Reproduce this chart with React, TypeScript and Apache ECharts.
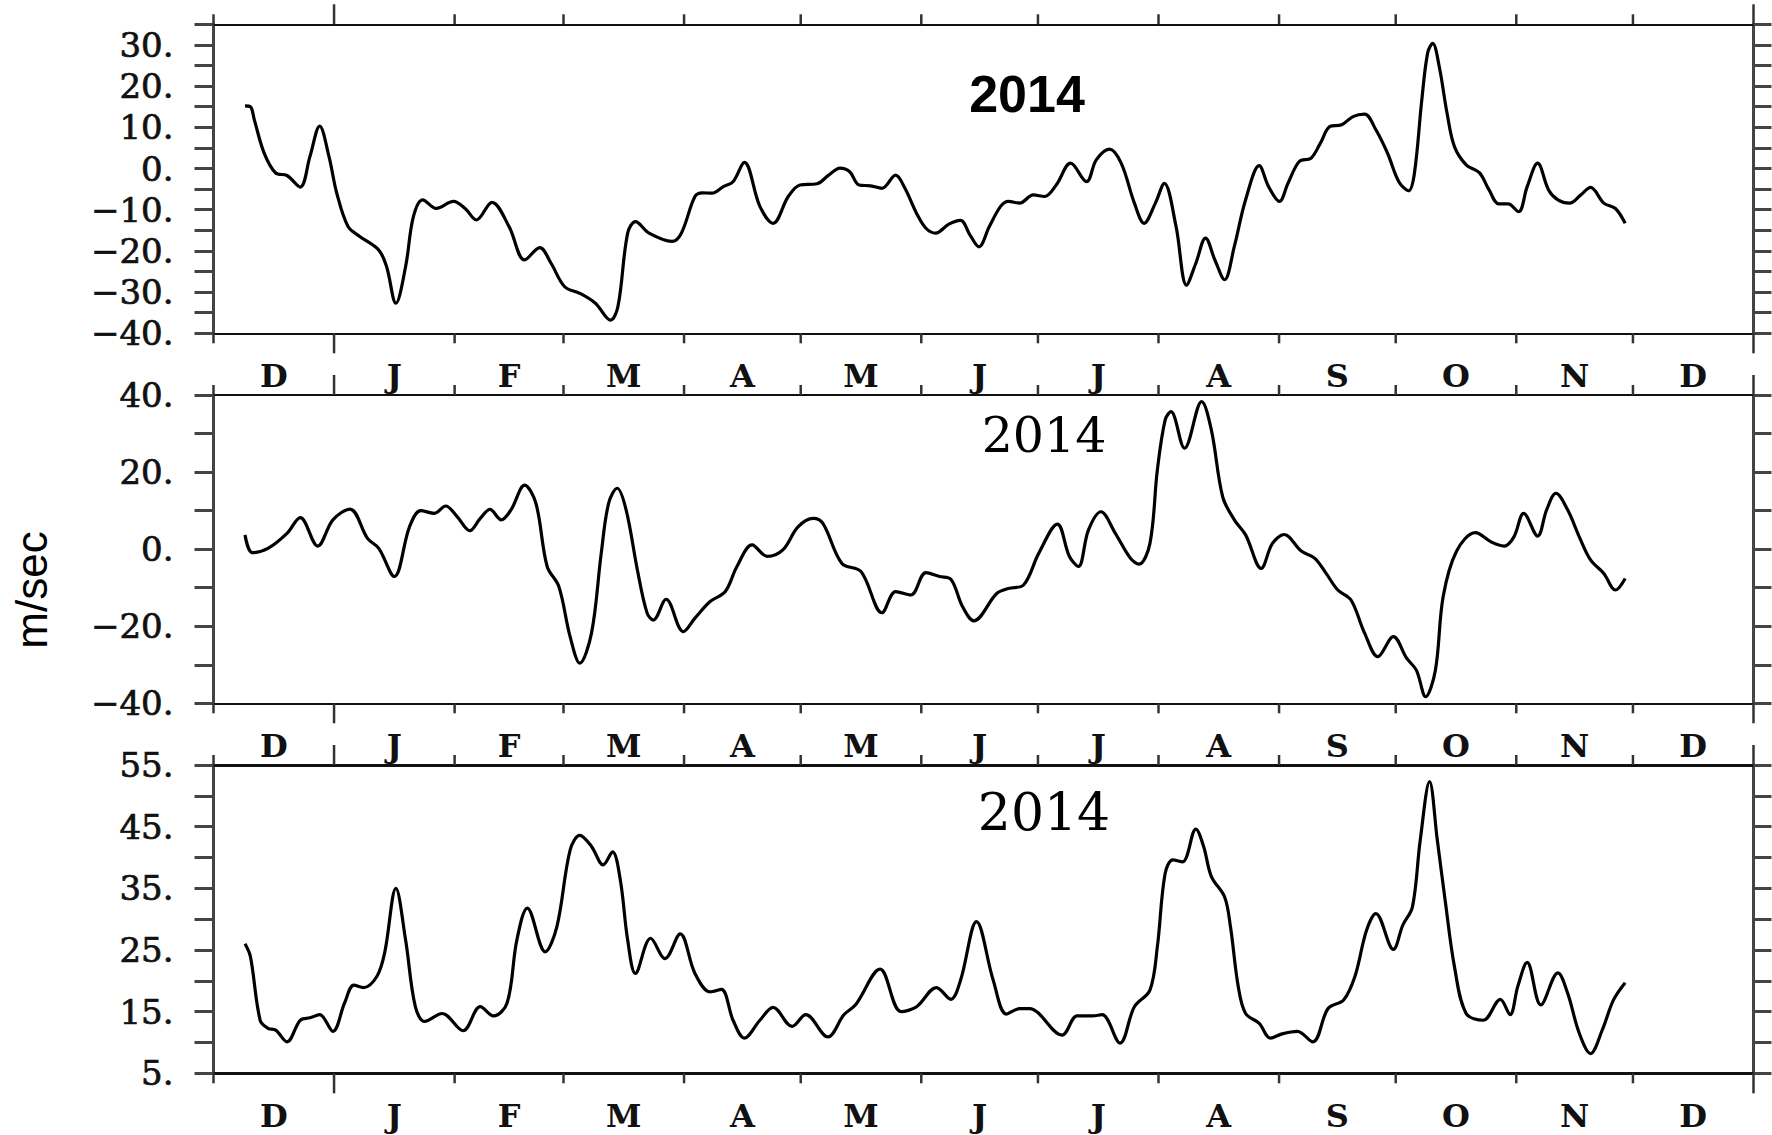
import React, { useEffect, useRef } from "react";
import * as echarts from "echarts";

// ---- x axis: days since 1 Dec 2013 ----
const monthStarts = [0, 31, 62, 90, 121, 151, 182, 212, 243, 274, 304, 335, 365, 396];
const longTickDays = [31, 396];
const monthLetters = ["D", "J", "F", "M", "A", "M", "J", "J", "A", "S", "O", "N", "D"];
const yearLabel = "2014";
const unitLabel = "m/sec";

// ---- panel 1 ----
const p1Days = [8.1, 9.5, 10.5, 13, 16, 18.9, 22.3, 24.8, 27.3, 29.7, 31.7, 34.6, 37.6, 42.5, 44.5, 46.9, 49.4, 51.4, 53.8, 57.3, 61.7, 64.7, 67.6, 71.6, 76, 80, 83.9, 86.8, 90.3, 94.2, 98.2, 102.1, 104, 106.5, 108.5, 112, 117.9, 120.3, 123.8, 125.7, 128.2, 131.1, 133.6, 136.5, 140.5, 143.9, 147.8, 150.8, 155.2, 158.2, 161.1, 163.6, 166, 169, 171.9, 175.4, 177.8, 180.8, 183.2, 185.7, 189.1, 192.1, 194.5, 196.8, 199.5, 202.4, 204.4, 207.3, 210.8, 213.7, 216.7, 220.4, 224.5, 227, 230.4, 233.4, 236.8, 239.3, 242.2, 244.5, 247.5, 250.2, 252.6, 255.1, 257.5, 260, 262.5, 265.4, 268.9, 271.3, 274.1, 276.3, 279.2, 282.2, 284.6, 287.1, 290.1, 293, 296, 298.9, 301.9, 304.8, 307.3, 308.8, 310.7, 312.2, 313.5, 315.2, 317.2, 319.1, 322.1, 325.5, 328, 330.5, 332.9, 335.6, 337.8, 340.5, 343.3, 345.7, 348.7, 351.6, 354.1, 357.5, 360.5, 363];
const p1Vals = [15.2, 15.0, 11.8, 3.8, -1.1, -1.7, -4.5, 2.9, 10.3, 2.9, -6, -14.1, -16.5, -19.8, -23.8, -32.7, -23.8, -11.7, -7.6, -9.7, -8, -9.7, -12.5, -8.2, -14.1, -22.2, -19.2, -23, -28.7, -30.3, -32.7, -36.8, -33.5, -15.7, -12.9, -15.7, -17.7, -15.7, -6.8, -5.9, -6, -4.4, -3.2, 1.5, -9.2, -13.3, -6.8, -4, -3.7, -1.6, 0.1, -0.8, -4, -4.2, -4.8, -1.6, -4.8, -10.9, -14.5, -15.7, -13.5, -12.6, -16.1, -19, -14.1, -9.2, -8, -8.4, -6.4, -6.8, -4, 1.3, -3.2, 2.1, 4.7, 1.3, -8.4, -13.3, -8.4, -3.6, -14, -28.3, -23, -16.9, -22.2, -27, -18.9, -7.6, 0.7, -4.4, -8, -3.6, 1.7, 2.5, 6.1, 10.2, 10.6, 12.6, 13.2, 9.4, 3.7, -3.2, -5.4, -1.2, 16.6, 28, 30.4, 24.7, 13.4, 5.3, 0.9, -1, -5.2, -8.6, -8.6, -10.5, -4.4, 1.3, -5.2, -7.6, -8.4, -6.4, -4.6, -8.4, -9.7, -13.3];
const p1Ticks = [-40, -30, -20, -10, 0, 10, 20, 30];

// ---- panel 2 ----
const p2Days = [8.1, 10, 14, 18.9, 22.3, 26.8, 30.7, 35.1, 39.6, 42.5, 46.5, 50.4, 53.3, 56.8, 59.7, 62.7, 65.9, 68.6, 71.1, 74, 76.5, 80, 82.9, 85.8, 88.8, 91.7, 94.2, 97.2, 99.7, 101.6, 103.8, 106.1, 109, 111.5, 113.1, 116.4, 120.8, 123.8, 127.7, 131.6, 134.6, 138.5, 142.4, 146.4, 150.3, 154.2, 156.7, 161.6, 166.5, 171.9, 175.4, 179.3, 183.2, 186.7, 189.6, 192.6, 195.5, 201.4, 204.4, 208.3, 212.2, 217, 220.1, 222.4, 225, 228.2, 231.9, 235.8, 238, 240.8, 242.7, 244.7, 246.2, 249.7, 254.1, 256.6, 259.5, 262.5, 265.4, 269.4, 272.3, 275.3, 279.7, 283.2, 286.1, 289.1, 292.5, 296, 299.4, 303.4, 306.8, 309.3, 311.7, 314.2, 316.2, 319.6, 324.5, 328.5, 331.9, 334.4, 336.9, 340.5, 342.8, 345.2, 348.2, 351.2, 354.1, 357.5, 360.5, 363];
const p2Vals = [3.7, -0.9, 0.2, 4.1, 8.2, 0.8, 7.6, 10.4, 2.8, 0.2, -7.1, 5.8, 10, 9.3, 11.2, 8.4, 4.8, 8, 10.3, 7.6, 10.2, 16.6, 11.9, -4.5, -9.7, -22.7, -29.6, -21.8, -1.1, 11.9, 15.8, 10.2, -5.4, -16.6, -18.4, -13, -21.4, -17.9, -13.6, -11, -4.5, 1.1, -1.9, -0.2, 5.8, 8, 6.7, -3.7, -5.8, -16.5, -11, -11.9, -6.1, -7.1, -7.8, -14.9, -18.6, -11.5, -10.2, -9.3, -1.1, 6.5, -1.9, -4.5, 5, 9.7, 4.1, -2.4, -3.9, 1.5, 20.5, 33.5, 35.7, 26.2, 38.3, 30.9, 13.6, 7.6, 3.7, -5, 1.5, 3.8, -0.5, -2.4, -6.3, -10.6, -13.2, -21.8, -27.9, -22.7, -28.3, -31.4, -38.3, -31.4, -12.3, -0.6, 4.3, 1.9, 0.8, 3.2, 9.3, 3.4, 10.2, 14.5, 10.2, 3.2, -2.8, -6.3, -10.6, -7.6];
const p2Ticks = [-40, -20, 0, 20, 40];

// ---- panel 3 ----
const p3Days = [8.1, 9.5, 12, 14, 16, 18.9, 22.3, 24.8, 27.3, 30.7, 33.7, 36.1, 38.6, 42, 44, 46.9, 49.4, 51.9, 54.3, 58.8, 64.2, 68.6, 72, 75.5, 78, 80.7, 85.3, 88.3, 91.7, 94.2, 97.2, 100.2, 102.6, 104.6, 106.5, 108.5, 112.4, 116.1, 120, 123.8, 127.7, 130.6, 133.6, 136.5, 140.5, 143.9, 148.8, 152.3, 158, 162.1, 165.1, 171.4, 176.8, 180.8, 185.9, 189.6, 192.1, 196.2, 200.5, 203.9, 207.3, 209.8, 218.2, 222.1, 226, 228.5, 233.1, 236.8, 240.8, 242.7, 244.7, 246.7, 249.2, 252.6, 254.6, 256.6, 260, 261.5, 263.5, 265.4, 268.9, 271.8, 274.8, 278.7, 282.7, 286.6, 290.6, 293.5, 296.5, 298.9, 303.4, 305.8, 308.3, 310.3, 312.7, 314.7, 316.7, 319.1, 322.1, 326.5, 330.9, 333.4, 335.4, 337.8, 341.3, 345.7, 348.2, 351.2, 354.1, 357.1, 360, 363];
const p3Vals = [26, 23.9, 13.6, 12.3, 12, 10.1, 13.6, 14, 14.5, 11.8, 16.4, 19.3, 18.9, 20.7, 24.5, 35, 26.6, 15.8, 13.4, 14.7, 11.9, 15.8, 14.3, 16.4, 26.6, 31.8, 24.7, 28.8, 41.2, 43.6, 41.8, 38.8, 40.9, 36.4, 26.6, 21.2, 26.9, 23.6, 27.6, 21.2, 18.2, 18.6, 13.6, 10.7, 13.6, 15.7, 12.6, 14.5, 10.9, 14.5, 16.1, 21.9, 15, 15.8, 18.9, 17, 20.1, 29.6, 20.1, 14.6, 15.5, 15.5, 11.2, 14.3, 14.3, 14.5, 9.9, 15.8, 18.5, 25.5, 37.4, 39.6, 39.3, 44.6, 41.8, 36.9, 33.6, 28.8, 19.1, 14.7, 13.1, 10.7, 11.4, 11.8, 10.1, 15.5, 16.9, 20.7, 28.2, 30.9, 25.1, 29, 32, 42.8, 52.3, 42.8, 33.1, 22.3, 14.7, 13.6, 17, 14.5, 19.1, 23, 16.1, 21.3, 18, 11.5, 8.2, 12, 16.9, 19.7];
const p3Ticks = [5, 15, 25, 35, 45, 55];

const panels = [
  { days: p1Days, vals: p1Vals, ticks: p1Ticks, min: -40, max: 35, step: 5, top: 24.3, height: 309, axisW: 2 },
  { days: p2Days, vals: p2Vals, ticks: p2Ticks, min: -40, max: 40, step: 10, top: 395, height: 308.3, axisW: 2 },
  { days: p3Days, vals: p3Vals, ticks: p3Ticks, min: 5, max: 55, step: 5, top: 765, height: 308.3, axisW: 3 },
];

const monthMids = monthStarts.slice(0, -1).map((d, i) => (d + monthStarts[i + 1]) / 2);

const fmtTick = (v: number) => (v < 0 ? "\u2212" : "") + Math.abs(v) + ".";

export default function App() {
  const ref = useRef<HTMLDivElement>(null);
  useEffect(() => {
    if (!ref.current) return;
    const chart = echarts.init(ref.current, null, { renderer: "svg" });
    const serif = "'DejaVu Serif', 'Liberation Serif', serif";
    const grid: any[] = [];
    const xAxis: any[] = [];
    const yAxis: any[] = [];
    const series: any[] = [];
    panels.forEach((p, i) => {
      grid.push({ left: 213.5, width: 1540, top: p.top, height: p.height, containLabel: false });
      xAxis.push({
        type: "value", gridIndex: i, min: 0, max: 396, position: "bottom",
        axisLine: { show: true, onZero: false, lineStyle: { color: "#111", width: p.axisW } },
        axisTick: { show: false }, splitLine: { show: false },
        axisLabel: {
          customValues: monthMids,
          formatter: (v: number) => {
            let best = 0;
            monthMids.forEach((m, k) => { if (Math.abs(m - v) < Math.abs(monthMids[best] - v)) best = k; });
            return monthLetters[best];
          },
          margin: 27, fontFamily: serif, fontWeight: "bold", fontSize: 32, color: "#111",
          showMinLabel: true, showMaxLabel: true,
        },
      });
      xAxis.push({
        type: "value", gridIndex: i, min: 0, max: 396, position: "top",
        axisLine: { show: true, onZero: false, lineStyle: { color: "#111", width: p.axisW } },
        axisTick: { show: false }, axisLabel: { show: false }, splitLine: { show: false },
      });
      yAxis.push({
        type: "value", gridIndex: i, min: p.min, max: p.max, interval: p.step, position: "left",
        axisLine: { show: true, onZero: false, lineStyle: { color: "#444", width: 3 } },
        axisTick: { show: true, inside: false, length: 19, lineStyle: { color: "#444", width: 3 } },
        splitLine: { show: false },
        axisLabel: {
          formatter: (v: number) => (p.ticks.includes(v) ? fmtTick(v) : ""),
          margin: 40, fontFamily: serif, fontSize: 34, color: "#111",
          textBorderColor: "#111", textBorderWidth: 0.7,
          showMinLabel: true, showMaxLabel: true,
        },
      });
      yAxis.push({
        type: "value", gridIndex: i, min: p.min, max: p.max, interval: p.step, position: "right",
        axisLine: { show: true, onZero: false, lineStyle: { color: "#444", width: 3 } },
        axisTick: { show: true, inside: false, length: 18, lineStyle: { color: "#444", width: 3 } },
        splitLine: { show: false }, axisLabel: { show: false },
      });
      series.push({
        type: "line", xAxisIndex: 2 * i, yAxisIndex: 2 * i,
        data: p.days.map((d, k) => [d, p.vals[k]]),
        showSymbol: false, smooth: 0.35,
        lineStyle: { color: "#000", width: 3.2 },
      });
      series.push({
        type: "custom", xAxisIndex: 2 * i, yAxisIndex: 2 * i, clip: false,
        data: monthStarts.map((d) => [d, p.min, longTickDays.includes(d) ? 1 : 0]),
        renderItem: (params: any, api: any) => {
          const x = api.coord([api.value(0), p.min])[0];
          const cs = params.coordSys;
          const len = api.value(2) ? 20 : 10;
          const st = { stroke: "#333", lineWidth: 2.5 };
          return {
            type: "group",
            children: [
              { type: "line", shape: { x1: x, y1: cs.y, x2: x, y2: cs.y - len }, style: st },
              { type: "line", shape: { x1: x, y1: cs.y + cs.height, x2: x, y2: cs.y + cs.height + len }, style: st },
            ],
          };
        },
      });
    });
    const txt = (x: number, y: number, text: string, font: any, rotation = 0) => ({
      type: "text", x, y, rotation,
      style: {
        text, fill: "#000", ...font,
        align: "center", verticalAlign: "middle", textAlign: "center", textVerticalAlign: "middle",
      },
    });
    chart.setOption({
      animation: false,
      backgroundColor: "#fff",
      grid, xAxis, yAxis, series,
      graphic: [
        txt(1027, 94, yearLabel, { fontFamily: "'Liberation Sans', Arial, sans-serif", fontWeight: "bold", fontSize: 52 }),
        txt(1044, 435, yearLabel, { fontFamily: serif, fontSize: 49 }),
        txt(1044, 812, yearLabel, { fontFamily: serif, fontSize: 52 }),
        txt(31, 590, unitLabel, { fontFamily: "'Liberation Sans', Arial, sans-serif", fontSize: 44 }, Math.PI / 2),
      ],
    });
    return () => chart.dispose();
  }, []);
  return (
    <div
      ref={ref}
      style={{ position: "fixed", left: 0, top: 0, width: 1772, height: 1135, background: "#fff" }}
    />
  );
}
